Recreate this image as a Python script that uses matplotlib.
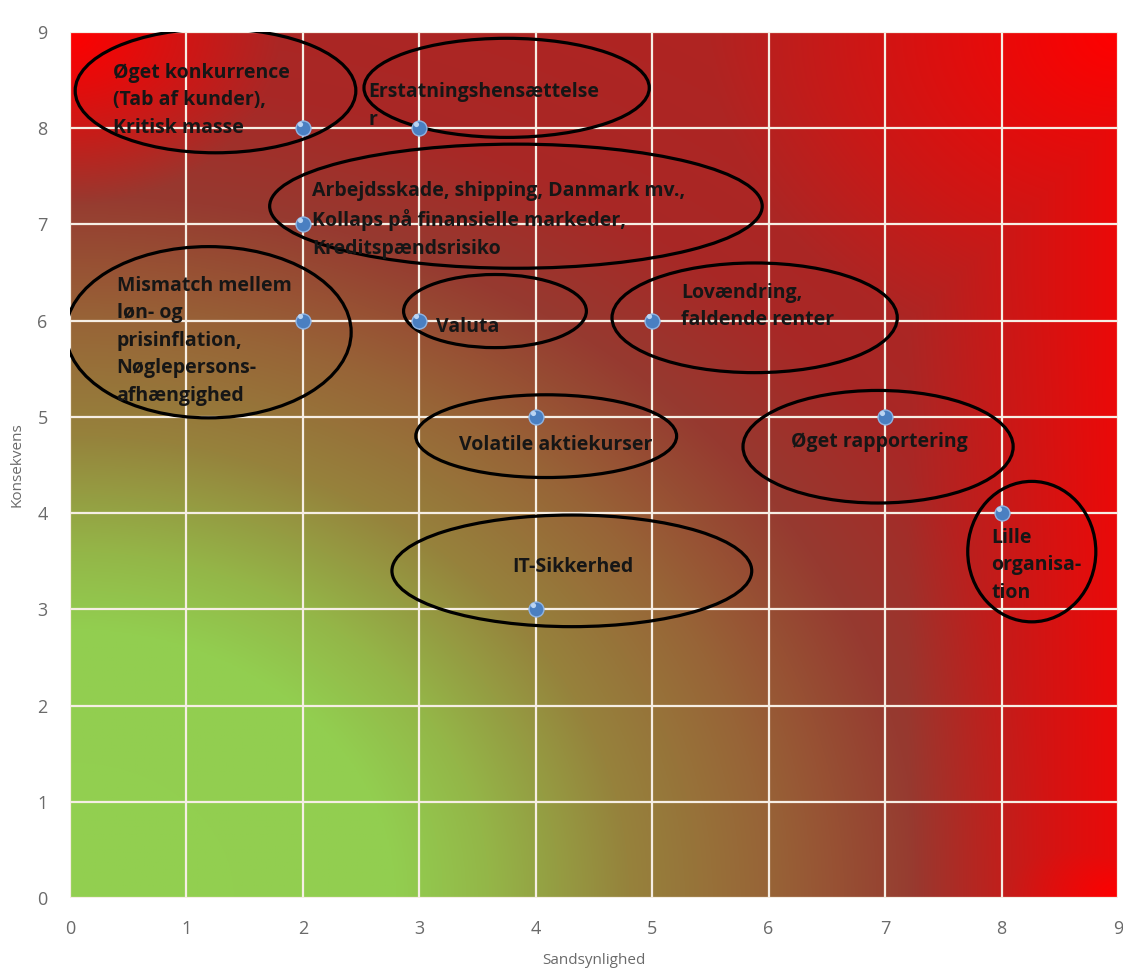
import numpy as np
import matplotlib
matplotlib.use("Agg")
import matplotlib.pyplot as plt
from matplotlib.patches import Ellipse
from matplotlib import font_manager

# risk points (Sandsynlighed, Konsekvens)
prob = [2, 3, 2, 2, 3, 5, 4, 7, 8, 4]
cons = [8, 8, 7, 6, 6, 6, 5, 5, 4, 3]

labels = [
    "Øget konkurrence\n(Tab af kunder),\nKritisk masse",
    "Erstatningshensættelse\nr",
    "Arbejdsskade, shipping, Danmark mv.,\nKollaps på finansielle markeder,\nKreditspændsrisiko",
    "Mismatch mellem\nløn- og\nprisinflation,\nNøglepersons-\nafhængighed",
    "Valuta",
    "Lovændring,\nfaldende renter",
    "Volatile aktiekurser",
    "Øget rapportering",
    "Lille\norganisa-\ntion",
    "IT-Sikkerhed",
]

# layout of the annotation text and ellipses (data coords)
label_pos = [(0.37, 8.29, "left"), (2.56, 8.23, "left"), (2.08, 7.05, "left"),
             (0.40, 5.79, "left"), (3.14, 5.93, "left"), (5.25, 6.15, "left"),
             (4.175, 4.71, "center"), (6.95, 4.74, "center"), (7.91, 3.46, "left"),
             (4.32, 3.44, "center")]
ellipses = [(1.25, 8.39, 2.41, 1.29), (3.75, 8.42, 2.45, 1.03), (3.83, 7.19, 4.23, 1.29),
            (1.19, 5.88, 2.45, 1.78), (3.65, 6.10, 1.57, 0.76), (5.88, 6.03, 2.45, 1.14),
            (4.09, 4.80, 2.24, 0.86), (6.94, 4.69, 2.32, 1.17), (8.26, 3.60, 1.10, 1.46),
            (4.31, 3.40, 3.09, 1.16)]


def pick_font(names):
    have = {f.name for f in font_manager.fontManager.ttflist}
    for n in names:
        if n in have:
            return n
    return "DejaVu Sans"


narrow = pick_font(["Liberation Sans Narrow", "Open Sans", "Liberation Sans"])

# background gradient: green in the lower left, red towards the edges
gx, gy = np.meshgrid(np.linspace(0, 9, 600), np.linspace(0, 9, 600))
r = np.hypot(gx, gy)
stops_r = [0, 2.8, 3.6, 4.8, 6.0, 7.3, 8.5, 10.5]
stops_c = np.array([(146, 208, 80), (146, 206, 80), (148, 182, 72), (150, 130, 60),
                    (152, 100, 55), (150, 58, 48), (168, 40, 38), (176, 36, 34)]) / 255
base = np.stack([np.interp(r, stops_r, stops_c[:, i]) for i in range(3)], axis=-1)
a_right = 0.75 * np.clip((gx - 7.2) / 1.8, 0, 1)
a_tl = np.clip(1 - np.hypot(gx, gy - 9) / 1.8, 0, 1)
a_tr = np.clip(1 - np.hypot(gx - 9, gy - 9) / 3.5, 0, 1)
a_br = np.clip(1 - np.hypot(gx - 9, gy) / 1.5, 0, 1)
alpha = np.maximum.reduce([a_right, a_tl, a_tr, a_br])[..., None]
img = base * (1 - alpha) + np.array([1.0, 0, 0]) * alpha

fig = plt.figure(figsize=(11.23, 9.71), dpi=100)
ax = fig.add_axes([0.0623, 0.0752, 0.9332, 0.8918])
ax.imshow(img, extent=[0, 9, 0, 9], origin="lower", aspect="auto", zorder=0)

ax.set_xlim(0, 9)
ax.set_ylim(0, 9)
ax.set_xticks(range(10))
ax.set_yticks(range(10))
ax.grid(True, color="#f6eee4", lw=1.6, zorder=1)
for s in ax.spines.values():
    s.set_visible(False)
ax.tick_params(length=0, pad=16, labelcolor="#6a6a6a", labelsize=13)
for t in ax.get_xticklabels() + ax.get_yticklabels():
    t.set_fontfamily(narrow)

for (cx, cy, w, h) in ellipses:
    ax.add_patch(Ellipse((cx, cy), w, h, fill=False, ec="black", lw=2.3, zorder=3))

for txt, (tx, ty, ha) in zip(labels, label_pos):
    ax.text(tx, ty, txt, ha=ha, va="center", fontsize=14, fontweight="bold",
            family=[narrow, "DejaVu Sans"], color="#161616", linespacing=1.5, zorder=4)

ax.scatter(prob, cons, s=115, color="#4a7fc1", edgecolors="#8fb4e3", linewidths=1.0, zorder=5)
ax.scatter(np.array(prob) - 0.025, np.array(cons) + 0.045, s=14, color="#b9d3f2", lw=0, zorder=6)

ax.set_xlabel("Sandsynlighed", fontsize=11, color="#6a6a6a", family=narrow, labelpad=11)
ax.set_ylabel("Konsekvens", fontsize=11, color="#6a6a6a", family=narrow, labelpad=9)

fig.savefig("out.png", dpi=100)
